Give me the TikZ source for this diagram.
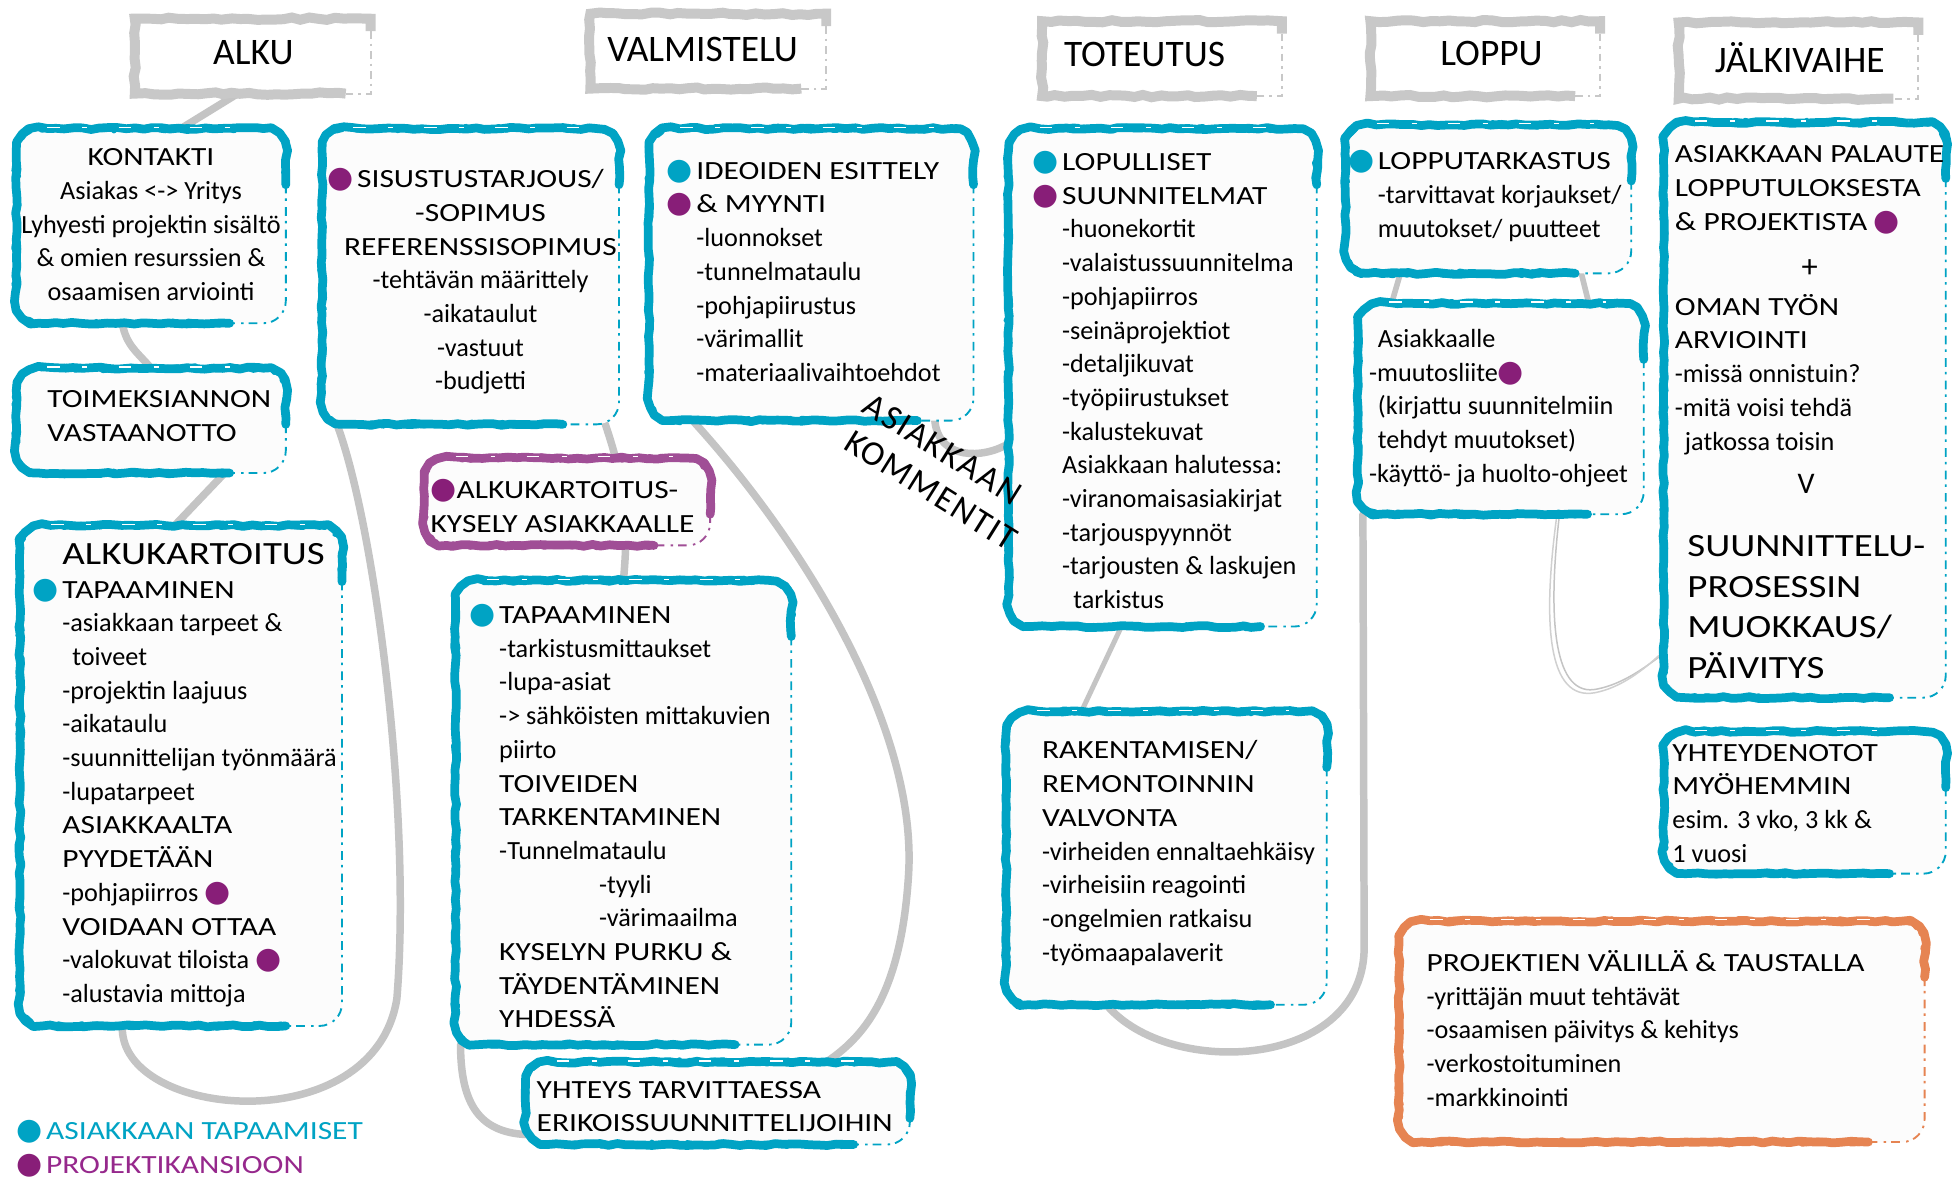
\documentclass[tikz,border=0pt]{standalone}
\usepackage{fontspec}
\usetikzlibrary{decorations.pathmorphing}

\newfontfamily\hwl{Carlito}
\newfontfamily\hwc[FakeStretch=1.2]{Carlito}
\newfontfamily\symf{DejaVu Sans}

\definecolor{cteal}{RGB}{0,163,196}
\definecolor{cpurple}{RGB}{136,30,120}
\definecolor{cpurpbox}{RGB}{160,78,150}
\definecolor{corange}{RGB}{230,132,82}
\definecolor{cgray}{RGB}{196,196,196}
\definecolor{chead}{RGB}{200,200,200}
\definecolor{cfill}{RGB}{252,252,252}
\definecolor{clegp}{RGB}{150,40,140}

% capitals are set a little wider than the lower-case text
\newcommand\uc[1]{{\hwc #1}}
\newcommand\dotglyph{{\symf\fontsize{24}{24}\selectfont ●}}
\newcommand\tdot{\llap{\textcolor{cteal}{\dotglyph}\hspace{3pt}}}
\newcommand\pdot{\llap{\textcolor{cpurple}{\dotglyph}\hspace{3pt}}}
\newcommand\pin{\textcolor{cpurple}{\dotglyph}}

\tikzset{
  boxn/.style={rectangle, draw=none, inner sep=0pt, outer sep=0pt},
  % the rounded outline is built first, the rough strokes follow it
  brush/.style={rounded corners=18pt,
    postaction={draw=#1, line width=7pt, line cap=round, line join=round, sharp corners,
      decorate, decoration={random steps, segment length=7pt, amplitude=0.8pt}},
    postaction={draw=#1, line width=3.5pt, line cap=round, line join=round, sharp corners,
      decorate, decoration={random steps, segment length=4pt, amplitude=2.2pt}}},
  brushfade/.style={line width=1.5pt, rounded corners=18pt, dash pattern=on 7pt off 4pt on 2pt off 5pt},
  hbrush/.style={draw=chead, line width=8pt, line cap=butt,
    decorate, decoration={random steps, segment length=7pt, amplitude=1pt}},
  hfade/.style={draw=chead, line width=1.5pt, dash pattern=on 6pt off 4pt on 2pt off 4pt},
  conn/.style={draw=cgray, line width=6pt, line cap=round},
  thinconn/.style={draw=cgray, line width=1.2pt, line cap=round},
  streak/.style={draw=white, line width=1pt, dash pattern=on 10pt off 18pt on 4pt off 25pt},
  txt/.style={inner sep=0pt, outer sep=0pt, align=left, anchor=west, font=\hwl\fontsize{21}{27}\selectfont},
  ctxt/.style={txt, align=center, anchor=center},
  htxt/.style={inner sep=0pt, outer sep=0pt, font=\hwl\fontsize{30}{32}\selectfont},
  cmt/.style={inner sep=0pt, outer sep=0pt, rotate=-32,
    font={\hwl\fontsize{28}{30}\selectfont\addfontfeature{LetterSpace=5}}},
}

% brush-painted frame round a box node
\newcommand\brushframe[2]{%
  \fill[cfill, rounded corners=18pt] (#1.north west) rectangle (#1.south east);
  \path[brush=#2] ([xshift=-45pt]#1.south east) -- (#1.south west) -- (#1.north west)
     -- (#1.north east) -- ([yshift=-45pt]#1.north east);
  \draw[brushfade, draw=#2] ([yshift=-45pt]#1.north east) -- (#1.south east) -- ([xshift=-45pt]#1.south east);
  \draw[streak] ([xshift=25pt,yshift=1pt]#1.north west) -- ([xshift=-30pt,yshift=1pt]#1.north east);
}
% grey frame round a phase heading
\newcommand\phaseframe[1]{%
  \fill[white] (#1.north west) rectangle (#1.south east);
  \draw[hbrush] ([xshift=-20pt]#1.south east) -- (#1.south west) -- (#1.north west)
     -- (#1.north east) -- ([yshift=-10pt]#1.north east);
  \draw[hfade] ([yshift=-10pt]#1.north east) -- (#1.south east) -- ([xshift=-20pt]#1.south east);
}

\begin{document}
\begin{tikzpicture}[x=1pt,y=-1pt]
\fill[white] (0,0) rectangle (1568,946);
\useasboundingbox (0,0) rectangle (1568,946);

% ---- phase headings
\node[boxn, minimum width=189pt, minimum height=60pt] (h-alku) at (202.5,45) {};
\node[boxn, minimum width=189pt, minimum height=60pt] (h-valm) at (567.5,41) {};
\node[boxn, minimum width=192pt, minimum height=60pt] (h-tot)  at (931,47) {};
\node[boxn, minimum width=184pt, minimum height=60pt] (h-loppu) at (1190,47) {};
\node[boxn, minimum width=192pt, minimum height=61pt] (h-jalki) at (1441,48.5) {};

% ---- content boxes
\node[boxn, minimum width=216pt, minimum height=156pt] (kontakti) at (121,181) {};
\node[boxn, minimum width=216pt, minimum height=84pt]  (toim)     at (121,337) {};
\node[boxn, minimum width=258pt, minimum height=401pt] (alkuk)    at (145,621.5) {};
\node[boxn, minimum width=238pt, minimum height=237pt] (sisu)     at (377,221.5) {};
\node[boxn, minimum width=229pt, minimum height=70pt]  (kysely)   at (454.5,402) {};
\node[boxn, minimum width=269pt, minimum height=372pt] (tapa)     at (499.5,651) {};
\node[boxn, minimum width=308pt, minimum height=66pt]  (yhteys)   at (575,884) {};
\node[boxn, minimum width=260pt, minimum height=234pt] (ideo)     at (650,220) {};
\node[boxn, minimum width=247pt, minimum height=399pt] (lopul)    at (931.5,302.5) {};
\node[boxn, minimum width=257pt, minimum height=235pt] (raken)    at (934.5,687.5) {};
\node[boxn, minimum width=229pt, minimum height=119pt] (lopput)   at (1192.5,159.5) {};
\node[boxn, minimum width=229pt, minimum height=169pt] (asiak)    at (1202.5,327.5) {};
\node[boxn, minimum width=226pt, minimum height=461pt] (palaute)  at (1446,328.5) {};
\node[boxn, minimum width=226pt, minimum height=114pt] (yhtd)     at (1446,643) {};
\node[boxn, minimum width=421pt, minimum height=177pt] (proj)     at (1331.5,826.5) {};

% ---- grey connectors (behind the boxes)
\draw[conn] ([xshift=-12pt]h-alku.south) -- ([xshift=24pt]kontakti.north);
\draw[conn] ([xshift=-23pt]kontakti.south) .. controls +(3,18) and +(-10,-12) .. (toim.north);
\draw[conn] ([xshift=59pt]toim.south) -- ([xshift=-5pt]alkuk.north);
\draw[conn] ([xshift=-47pt]alkuk.south) .. controls +(-3,75) and (300,915) .. (318,800)
   .. controls (330,650) and (300,420) .. ([xshift=-107pt]sisu.south);
\draw[conn] ([xshift=108pt]sisu.south) to[bend left=12] (tapa.north);
\draw[conn] ([xshift=-95pt]ideo.south) .. controls (640,430) and (735,580) .. (728,700)
   .. controls (722,800) and (690,832) .. ([xshift=87pt]yhteys.north);
\draw[conn] ([xshift=4pt]tapa.south west) .. controls +(0,50) and +(-35,-2) .. ([yshift=8pt]yhteys.south west);
\draw[conn] ([xshift=-31pt]ideo.south east) .. controls +(3,32) and +(-20,12) .. ([yshift=-53pt]lopul.west);
\draw[conn, line width=4pt] ([xshift=-33pt]lopul.south) -- ([xshift=-68pt]raken.north);
\draw[conn, line width=4.5pt] ([xshift=44pt]lopput.south west) -- ([xshift=27pt]asiak.north west);
\draw[conn, line width=4.5pt] ([xshift=-40pt]lopput.south east) -- ([xshift=-44pt]asiak.north east);
\draw[conn] ([xshift=4pt]asiak.south west) -- ++(1,345) .. controls +(2,100) and +(50,60) .. ([xshift=-48pt]raken.south);
\draw[thinconn] ([xshift=47pt]asiak.south) .. controls +(-10,85) and (1245,560) .. (1280,552)
   .. controls (1300,548) and (1318,535) .. ([yshift=-195pt]palaute.west);
\draw[thinconn, draw=cgray!80] ([xshift=45pt]asiak.south) .. controls +(-12,88) and (1240,562) .. (1278,555)
   .. controls (1298,551) and (1316,538) .. ([yshift=-193pt]palaute.west);

% ---- frames
\phaseframe{h-alku}
\phaseframe{h-valm}
\phaseframe{h-tot}
\phaseframe{h-loppu}
\phaseframe{h-jalki}
\brushframe{kontakti}{cteal}
\brushframe{toim}{cteal}
\brushframe{alkuk}{cteal}
\brushframe{sisu}{cteal}
\brushframe{kysely}{cpurpbox}
\brushframe{tapa}{cteal}
\brushframe{yhteys}{cteal}
\brushframe{ideo}{cteal}
\brushframe{lopul}{cteal}
\brushframe{raken}{cteal}
\brushframe{lopput}{cteal}
\brushframe{asiak}{cteal}
\brushframe{palaute}{cteal}
\brushframe{yhtd}{cteal}
\brushframe{proj}{corange}

% ---- headings
\node[htxt] (ht-alku)  at (203,42)  {ALKU};
\node[htxt] (ht-valm)  at (563,40)  {VALMISTELU};
\node[htxt] (ht-tot)   at (917,44)  {TOTEUTUS};
\node[htxt] (ht-loppu) at (1195,43) {LOPPU};
\node[htxt] (ht-jalki) at (1442,46) {JÄLKIVAIHE};

% ---- box texts
\node[ctxt] (kontakti-t) at (121,180) {\uc{KONTAKTI}\\Asiakas <-> Yritys\\Lyhyesti projektin sisältö\\\& omien resurssien \&\\osaamisen arviointi};

\node[txt] (toim-t) at (38,333.5) {\uc{TOIMEKSIANNON}\\\uc{VASTAANOTTO}};

\node[txt] (alkuk-t) at (50,621) {{\hwc\fontsize{26}{27}\selectfont ALKUKARTOITUS}\\
  \tdot\uc{TAPAAMINEN}\\
  -asiakkaan tarpeet \&\\
  \hspace*{8pt}toiveet\\
  -projektin laajuus\\
  -aikataulu\\
  -suunnittelijan työnmäärä\\
  -lupatarpeet\\
  \uc{ASIAKKAALTA}\\
  \uc{PYYDETÄÄN}\\
  -pohjapiirros \pin\\
  \uc{VOIDAAN OTTAA}\\
  -valokuvat tiloista \pin\\
  -alustavia mittoja};

\node[ctxt] (sisu-t) at (385,225.5) {\pdot\uc{SISUSTUSTARJOUS/}\\\uc{-SOPIMUS}\\\uc{REFERENSSISOPIMUS}\\-tehtävän määrittely\\-aikataulut\\-vastuut\\-budjetti};

\node[txt] (kysely-t) at (345,405.5) {\pin\uc{ALKUKARTOITUS-}\\\uc{KYSELY ASIAKKAALLE}};

\node[txt] (tapa-t) at (400,654) {\tdot\uc{TAPAAMINEN}\\
  -tarkistusmittaukset\\
  -lupa-asiat\\
  -> sähköisten mittakuvien\\
  piirto\\
  \uc{TOIVEIDEN}\\
  \uc{TARKENTAMINEN}\\
  -Tunnelmataulu\\
  \hspace*{80pt}-tyyli\\
  \hspace*{80pt}-värimaailma\\
  \uc{KYSELYN PURKU \&}\\
  \uc{TÄYDENTÄMINEN}\\
  \uc{YHDESSÄ}};

\node[txt] (yhteys-t) at (430,886.5) {\uc{YHTEYS TARVITTAESSA}\\\uc{ERIKOISSUUNNITTELIJOIHIN}};

\node[txt] (ideo-t) at (558,217) {\tdot\uc{IDEOIDEN ESITTELY}\\\pdot\uc{\& MYYNTI}\\-luonnokset\\-tunnelmataulu\\-pohjapiirustus\\-värimallit\\-materiaalivaihtoehdot};

% customer comments, written slanting down between the boxes
\node[cmt] (kommentit-a) at (755,360) {ASIAKKAAN};
\node[cmt] (kommentit-b) at (746,393) {KOMMENTIT};

\node[txt] (lopul-t) at (851,304.5) {\tdot\uc{LOPULLISET}\\
  \pdot\uc{SUUNNITELMAT}\\
  -huonekortit\\
  -valaistussuunnitelma\\
  -pohjapiirros\\
  -seinäprojektiot\\
  -detaljikuvat\\
  -työpiirustukset\\
  -kalustekuvat\\
  Asiakkaan halutessa:\\
  -viranomaisasiakirjat\\
  -tarjouspyynnöt\\
  -tarjousten \& laskujen\\
  \hspace*{9pt}tarkistus};

\node[txt] (raken-t) at (835,683.5) {\uc{RAKENTAMISEN/}\\\uc{REMONTOINNIN}\\\uc{VALVONTA}\\-virheiden ennaltaehkäisy\\-virheisiin reagointi\\-ongelmien ratkaisu\\-työmaapalaverit};

\node[txt] (lopput-t) at (1104,157) {\tdot\uc{LOPPUTARKASTUS}\\-tarvittavat korjaukset/\\muutokset/ puutteet};

\node[txt] (asiak-t) at (1097,327) {\hspace*{7pt}Asiakkaalle\\-muutosliite\pin\\\hspace*{7pt}(kirjattu suunnitelmiin\\\hspace*{7pt}tehdyt muutokset)\\-käyttö- ja huolto-ohjeet};

\node[txt] (pal-a) at (1342,152) {\uc{ASIAKKAAN PALAUTE}\\\uc{LOPPUTULOKSESTA}\\\uc{\& PROJEKTISTA} \pin};
\node[txt, anchor=center, font=\hwl\fontsize{26}{27}\selectfont] (pal-plus) at (1450,215) {+};
\node[txt] (pal-b) at (1342,300) {\uc{OMAN TYÖN}\\\uc{ARVIOINTI}\\-missä onnistuin?\\-mitä voisi tehdä\\\hspace*{8pt}jatkossa toisin};
\node[txt, anchor=center, font=\hwl\fontsize{24}{27}\selectfont] (pal-v) at (1447,388) {V};
\node[txt, font=\hwc\fontsize{26}{32.5}\selectfont] (pal-c) at (1352,486.5) {SUUNNITTELU-\\PROSESSIN\\MUOKKAUS/\\PÄIVITYS};

\node[txt] (yhtd-t) at (1340,643.5) {\uc{YHTEYDENOTOT}\\\uc{MYÖHEMMIN}\\esim. 3 vko, 3 kk \&\\1 vuosi};

\node[txt] (proj-t) at (1143,824) {\uc{PROJEKTIEN VÄLILLÄ \& TAUSTALLA}\\-yrittäjän muut tehtävät\\-osaamisen päivitys \& kehitys\\-verkostoituminen\\-markkinointi};

% ---- legend
\node[txt, text=cteal] (leg-t) at (37,907) {\tdot\uc{ASIAKKAAN TAPAAMISET}};
\node[txt, text=clegp] (leg-p) at (37,934) {\pdot\uc{PROJEKTIKANSIOON}};
\end{tikzpicture}
\end{document}
